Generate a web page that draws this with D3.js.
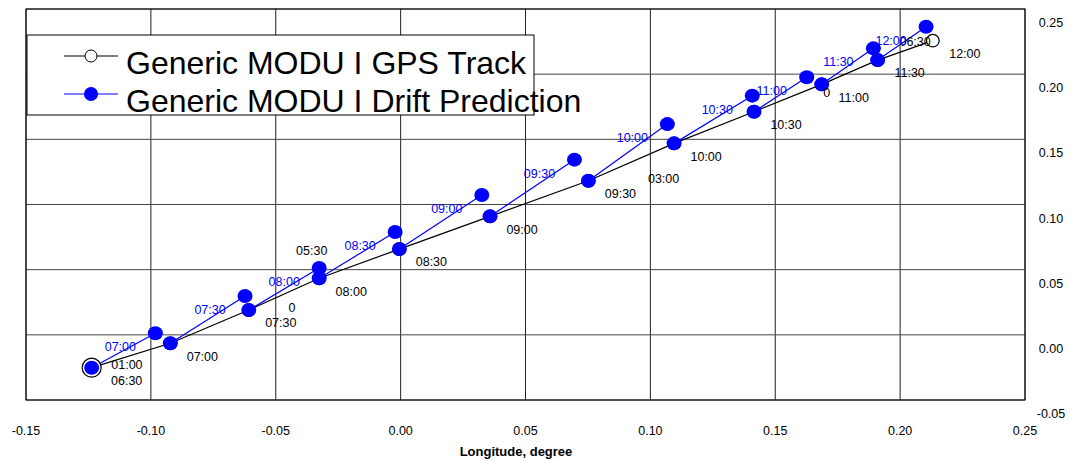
<!DOCTYPE html>
<html>
<head>
    <meta charset="UTF-8">
    <title>Drift prediction</title>
    <style>
        body { margin: 0; background: #fff; }
        text { font-family: "Liberation Sans", Arial, sans-serif; }
    </style>
</head>
<body>
<div id="chart"></div>
<script src="https://cdn.jsdelivr.net/npm/d3@7"></script>
<script>
    // GPS track (observed positions)
    var gpsTimes = ["06:30", "07:00", "07:30", "08:00", "08:30", "09:00", "09:30", "10:00", "10:30", "11:00", "11:30", "12:00"];
    var gpsLon = [-0.1237, -0.0922, -0.0608, -0.0326, -0.0005, 0.0358, 0.0752, 0.1095, 0.1415, 0.1686, 0.1910, 0.2131];
    var gpsLat = [-0.0252, -0.0065, 0.0190, 0.0434, 0.0658, 0.0909, 0.1182, 0.1469, 0.1712, 0.1922, 0.2108, 0.2257];

    // drift prediction end points (each one starts from the previous GPS fix)
    var predTimes = ["07:00", "07:30", "08:00", "08:30", "09:00", "09:30", "10:00", "10:30", "11:00", "11:30", "12:00"];
    var predLon = [-0.0982, -0.0623, -0.0326, -0.0022, 0.0325, 0.0696, 0.1068, 0.1408, 0.1626, 0.1893, 0.2104];
    var predLat = [0.0012, 0.0298, 0.0513, 0.0789, 0.1073, 0.1344, 0.1617, 0.1835, 0.1976, 0.2198, 0.2364];

    // stray labels left in the original plot
    var extraText = ["01:00", "0", "05:30", "03:00", "0", "06:30"];
    var extraLon = [-0.1096, -0.0435, -0.0356, 0.1053, 0.1706, 0.2060];
    var extraLat = [-0.0226, 0.0206, 0.0645, 0.1201, 0.1858, 0.2249];

    var xTicks = [-0.15, -0.10, -0.05, 0.00, 0.05, 0.10, 0.15, 0.20, 0.25];
    var yTicks = [-0.05, 0.00, 0.05, 0.10, 0.15, 0.20, 0.25];

    var legendNames = ["Generic MODU I GPS Track", "Generic MODU I Drift Prediction"];

    var width = 1070, height = 461;
    var svg = d3.select("#chart").append("svg")
        .attr("width", width).attr("height", height);

    var x = d3.scaleLinear().domain([-0.15, 0.25]).range([26, 1025]);
    var y = d3.scaleLinear().domain([-0.05, 0.25]).range([400, 9]);
    var fmt = function (d) { return d.toFixed(2); };

    // grid
    svg.append("g").selectAll("line").data(xTicks).join("line")
        .attr("x1", d => x(d)).attr("x2", d => x(d))
        .attr("y1", y(0.25)).attr("y2", y(-0.05))
        .attr("stroke", "#222").attr("stroke-width", 1);
    svg.append("g").selectAll("line").data(yTicks).join("line")
        .attr("x1", x(-0.15)).attr("x2", x(0.25))
        .attr("y1", d => y(d)).attr("y2", d => y(d))
        .attr("stroke", "#444").attr("stroke-width", 1);
    svg.append("rect")
        .attr("x", x(-0.15)).attr("y", y(0.25))
        .attr("width", x(0.25) - x(-0.15)).attr("height", y(-0.05) - y(0.25))
        .attr("fill", "none").attr("stroke", "#000");

    // tick labels
    svg.append("g").selectAll("text").data(xTicks).join("text")
        .attr("x", d => x(d)).attr("y", 435)
        .attr("text-anchor", "middle").attr("font-size", "12.5px")
        .text(fmt);
    svg.append("g").selectAll("text").data(yTicks).join("text")
        .attr("x", 1051).attr("y", d => y(d) + 18)
        .attr("text-anchor", "middle").attr("font-size", "12.5px")
        .text(fmt);
    svg.append("text")
        .attr("x", 516).attr("y", 456)
        .attr("text-anchor", "middle").attr("font-size", "13px").attr("font-weight", "bold")
        .text("Longitude, degree");

    var gps = gpsTimes.map((t, i) => ({t: t, lon: gpsLon[i], lat: gpsLat[i]}));
    var pred = predTimes.map((t, i) => ({t: t, lon: predLon[i], lat: predLat[i], from: gps[i]}));

    var line = d3.line().x(d => x(d.lon)).y(d => y(d.lat));

    // GPS track line
    svg.append("path").datum(gps)
        .attr("d", line)
        .attr("fill", "none").attr("stroke", "#000").attr("stroke-width", 1.2);

    // prediction segments
    svg.append("g").selectAll("path").data(pred).join("path")
        .attr("d", d => line([d.from, d]))
        .attr("fill", "none").attr("stroke", "#0000ff").attr("stroke-width", 1.2);

    // GPS markers (open circles)
    svg.append("g").selectAll("circle").data(gps).join("circle")
        .attr("cx", d => x(d.lon)).attr("cy", d => y(d.lat))
        .attr("r", (d, i) => i === 0 ? 9.5 : 6.3)
        .attr("fill", "#fff").attr("stroke", "#000").attr("stroke-width", 1.2);

    // prediction markers at both ends of each segment
    var predPts = [];
    pred.forEach(function (d) { predPts.push(d.from); predPts.push(d); });
    svg.append("g").selectAll("ellipse").data(predPts).join("ellipse")
        .attr("cx", d => x(d.lon)).attr("cy", d => y(d.lat))
        .attr("rx", 7.5).attr("ry", 7)
        .attr("fill", "#0000ff");

    // labels
    svg.append("g").selectAll("text").data(gps).join("text")
        .attr("x", (d, i) => x(d.lon) + (i === 0 ? 35 : 32))
        .attr("y", d => y(d.lat) + 13)
        .attr("dy", "0.35em")
        .attr("text-anchor", "middle").attr("font-size", "12.5px").attr("fill", "#000")
        .text(d => d.t);
    svg.append("g").selectAll("text").data(extraText).join("text")
        .attr("x", (d, i) => x(extraLon[i]))
        .attr("y", (d, i) => y(extraLat[i]))
        .attr("dy", "0.35em")
        .attr("text-anchor", "middle").attr("font-size", "12.5px").attr("fill", "#000")
        .text(d => d);
    svg.append("g").selectAll("text").data(pred).join("text")
        .attr("x", d => x(d.lon) - 35)
        .attr("y", d => y(d.lat) + 13.5)
        .attr("dy", "0.35em")
        .attr("text-anchor", "middle").attr("font-size", "12.5px").attr("fill", "#0000ff")
        .text(d => d.t);

    // legend
    var lg = svg.append("g");
    lg.append("rect")
        .attr("x", 27).attr("y", 35).attr("width", 507).attr("height", 80)
        .attr("fill", "#fff").attr("stroke", "#000");
    var items = lg.selectAll("g").data(legendNames).join("g")
        .attr("transform", (d, i) => "translate(0," + (56 + i * 38) + ")");
    items.append("line")
        .attr("x1", 64).attr("x2", 118)
        .attr("stroke", (d, i) => i === 0 ? "#000" : "#0000ff").attr("stroke-width", 1.2);
    items.append("circle")
        .attr("cx", 91).attr("r", (d, i) => i === 0 ? 6 : 7)
        .attr("fill", (d, i) => i === 0 ? "#fff" : "#0000ff")
        .attr("stroke", (d, i) => i === 0 ? "#000" : "none");
    items.append("text")
        .attr("x", 126).attr("y", 18)
        .attr("font-size", "32px").attr("fill", "#000")
        .text(d => d);
</script>
</body>
</html>
